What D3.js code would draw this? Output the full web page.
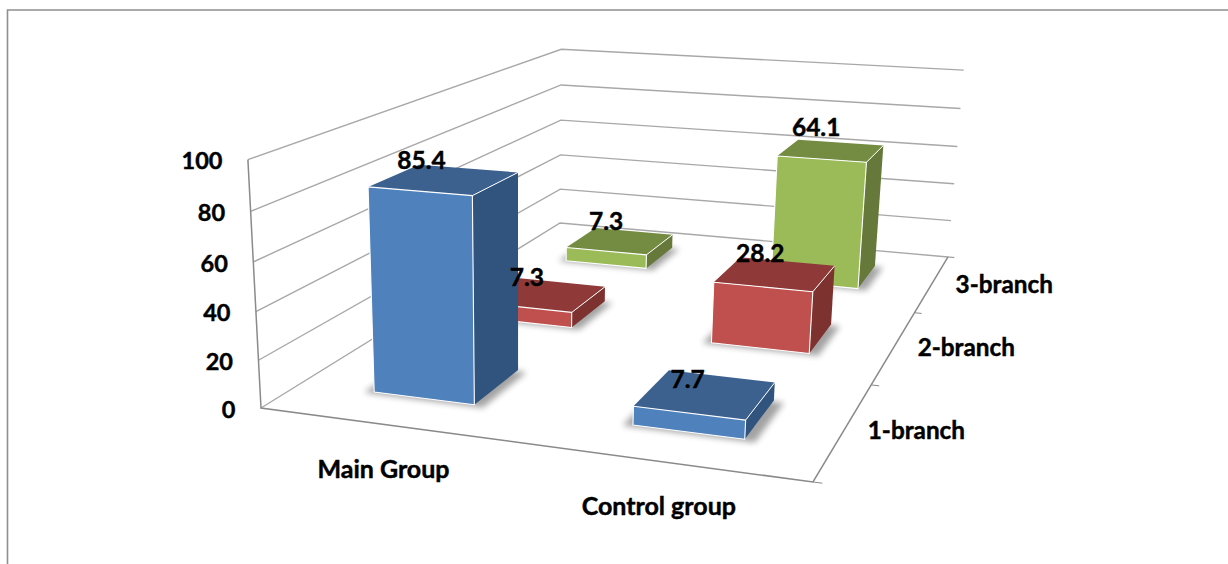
<!DOCTYPE html>
<html>
<head>
<meta charset="utf-8">
<script src="https://cdn.jsdelivr.net/npm/d3@7/dist/d3.min.js"></script>
<style>
  html, body { margin: 0; padding: 0; background: #fff; }
  svg { display: block; }
  text { font-family: Lato, "Open Sans", sans-serif; font-weight: 700; fill: #000; stroke: #000; stroke-width: 0.45px; }
</style>
</head>
<body>
<svg id="chart" width="1228" height="564"></svg>
<script>
// Chart content
const groups = ["Main Group", "Control group"];
const branches = ["1-branch", "2-branch", "3-branch"];
const mainGroupValues = [85.4, 7.3, 7.3];
const controlGroupValues = [7.7, 28.2, 64.1];
const valueTicks = [0, 20, 40, 60, 80, 100];

// Face colours per branch
const faceColors = [
  { front: "#4f81bd", top: "#3c618f", side: "#31547e" },
  { front: "#c0504d", top: "#8f3a38", side: "#7d3230" },
  { front: "#9bbb59", top: "#748c42", side: "#66793a" }
];

// Fine placement of each value label, [main, control] by branch
const labelNudge = [
  [[-23, -19], [-18, -15]],
  [[-18, -17], [-15, -20]],
  [[-14, -20], [-15, -23]]
];

// World scales: u runs across the groups, v into the depth, w upward
const uScale = d3.scaleBand().domain(groups).range([0, 1]).paddingInner(0.6).paddingOuter(0.3);
const vScale = d3.scaleBand().domain(branches).range([0, 1]).paddingInner(0.585).paddingOuter(0.2925);
const wScale = d3.scaleLinear().domain([0, 100]).range([0, 1]);

// Perspective camera as a homogeneous 3x4 matrix
const camX = [464, 556.8, -25, 261];
const camY = [21.8, -82.4, -256, 408];
const camW = [-0.1082, 0.4603, -0.048, 1];
function project(u, v, w) {
  const d = camW[0] * u + camW[1] * v + camW[2] * w + camW[3];
  return [
    (camX[0] * u + camX[1] * v + camX[2] * w + camX[3]) / d,
    (camY[0] * u + camY[1] * v + camY[2] * w + camY[3]) / d
  ];
}

const svg = d3.select("#chart");
const lineGen = d3.line();
const closed = pts => lineGen(pts) + "Z";

const defs = svg.append("defs");
defs.append("filter").attr("id", "soft")
  .attr("x", "-30%").attr("y", "-30%").attr("width", "160%").attr("height", "160%")
  .append("feGaussianBlur").attr("stdDeviation", 3);

// Outer frame, open on the right and at the bottom
svg.append("path")
  .attr("d", lineGen([[7.5, 564], [7.5, 10], [1228, 10]]))
  .attr("fill", "none").attr("stroke", "#8f8f8f").attr("stroke-width", 1.6);

// Gridlines on the side and back walls
const grid = svg.append("g").attr("fill", "none").attr("stroke", "#a8a8a8").attr("stroke-width", 1.4);
grid.selectAll("path").data(valueTicks).join("path")
  .attr("d", t => {
    const w = wScale(t);
    return lineGen([project(0, 0, w), project(0, 1, w), project(1, 1, w)]);
  });

// Axis edges along the value axis, the front of the floor and its right side
const axisEdges = svg.append("g").attr("fill", "none").attr("stroke", "#8a8a8a").attr("stroke-width", 1.5);
axisEdges.append("path").attr("d", lineGen([project(0, 0, 1), project(0, 0, 0), project(1, 0, 0), project(1, 1, 0)]));
axisEdges.selectAll("path.tick").data(d3.range(branches.length + 1)).join("path").attr("class", "tick")
  .attr("stroke-width", 1)
  .attr("d", i => {
    const v = i / branches.length;
    return lineGen([project(1, v, 0), project(1.015, v, 0)]);
  });

// One record per bar, painted from the back to the front
const bars = [];
branches.forEach((branch, b) => {
  groups.forEach((group, g) => {
    const value = (g === 0 ? mainGroupValues : controlGroupValues)[b];
    bars.push({ group, branch, b, g, value });
  });
});
bars.sort((p, q) => d3.descending(p.b, q.b) || d3.ascending(p.g, q.g));

const barLayer = svg.append("g");
const barGroups = barLayer.selectAll("g.bar").data(bars).join("g").attr("class", "bar");

barGroups.each(function (d) {
  const sel = d3.select(this);
  const u0 = uScale(d.group), u1 = u0 + uScale.bandwidth();
  const v0 = vScale(d.branch), v1 = v0 + vScale.bandwidth();
  const h = wScale(d.value);
  const c = faceColors[d.b];

  // Soft contact shadow on the floor
  sel.append("path")
    .attr("d", closed([
      project(u0 - 0.016, v0 - 0.006, 0), project(u1 + 0.02, v0 - 0.006, 0),
      project(u1 + 0.02, v1 - 0.004, 0), project(u0 - 0.016, v1 - 0.004, 0)
    ]))
    .attr("fill", "#000").attr("opacity", 0.36).attr("filter", "url(#soft)");

  const fbl = project(u0, v0, 0), fbr = project(u1, v0, 0);
  const bbr = project(u1, v1, 0);
  const ftl = project(u0, v0, h), ftr = project(u1, v0, h);
  const btr = project(u1, v1, h), btl = project(u0, v1, h);

  sel.append("path").attr("d", closed([ftr, btr, bbr, fbr])).attr("fill", c.side);
  sel.append("path").attr("d", closed([ftl, ftr, btr, btl])).attr("fill", c.top);
  sel.append("path").attr("d", closed([ftl, ftr, fbr, fbl])).attr("fill", c.front)
    .attr("stroke", "#fff").attr("stroke-width", 1.1).attr("stroke-linejoin", "round");
  sel.append("path").attr("d", lineGen([ftr, btr])).attr("stroke", "#fff").attr("stroke-width", 1).attr("fill", "none");
});

// Value axis labels, following the slant of the axis
svg.append("g").attr("font-size", 23.5).attr("text-anchor", "end")
  .selectAll("text").data(valueTicks).join("text")
  .attr("x", t => project(0, 0, wScale(t))[0] - 25.5)
  .attr("y", t => project(0, 0, wScale(t))[1] + 1.5)
  .attr("dy", "0.35em")
  .text(t => t);

// Group labels under the front edge
svg.append("g").attr("font-size", 25).attr("text-anchor", "middle")
  .selectAll("text").data(groups).join("text")
  .attr("x", g => project(uScale(g) + uScale.bandwidth() / 2, 0, 0)[0] - 4)
  .attr("y", g => project(uScale(g) + uScale.bandwidth() / 2, 0, 0)[1] + 44)
  .attr("dy", "0.35em")
  .text(g => g);

// Branch labels beside the right floor edge
svg.append("g").attr("font-size", 24.3).attr("text-anchor", "middle")
  .selectAll("text").data(branches).join("text")
  .attr("x", b => project(1, vScale(b) + vScale.bandwidth() / 2, 0)[0] + 72)
  .attr("y", b => project(1, vScale(b) + vScale.bandwidth() / 2, 0)[1] + 1)
  .attr("dy", "0.35em")
  .text(b => b);

// Value labels near each bar's top face
svg.append("g").attr("font-size", 24.5).attr("text-anchor", "middle")
  .selectAll("text").data(bars).join("text")
  .attr("x", d => project(uScale(d.group) + uScale.bandwidth() / 2, vScale(d.branch) + vScale.bandwidth() / 2, wScale(d.value))[0] + labelNudge[d.b][d.g][0])
  .attr("y", d => project(uScale(d.group) + uScale.bandwidth() / 2, vScale(d.branch) + vScale.bandwidth() / 2, wScale(d.value))[1] + labelNudge[d.b][d.g][1])
  .attr("dy", "0.35em")
  .text(d => d.value);
</script>
</body>
</html>
